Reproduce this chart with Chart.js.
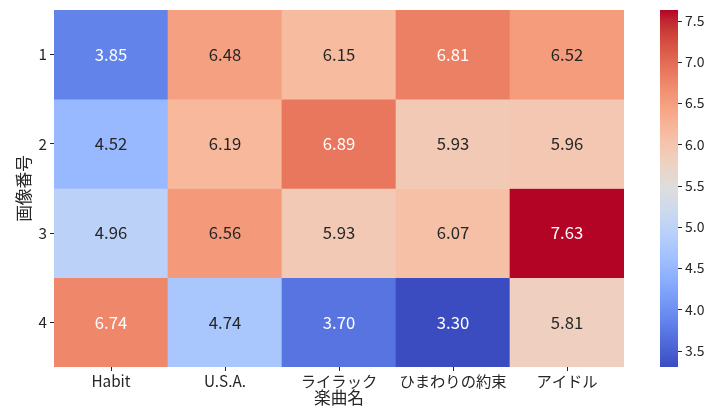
<!DOCTYPE html>
<html><head><meta charset="utf-8">
<script src="https://cdn.jsdelivr.net/npm/chart.js@4/dist/chart.umd.min.js"></script>
<style>html,body{margin:0;padding:0;background:#fff}</style>
</head><body>
<canvas id="c" width="713" height="409"></canvas>
<script>
// ---- data ----
const songs = ['Habit', 'U.S.A.', 'ライラック', 'ひまわりの約束', 'アイドル'];
const rowLabels = ['1', '2', '3', '4'];
const row1 = [3.85, 6.48, 6.15, 6.81, 6.52];
const row2 = [4.52, 6.19, 6.89, 5.93, 5.96];
const row3 = [4.96, 6.56, 5.93, 6.07, 7.63];
const row4 = [6.74, 4.74, 3.70, 3.30, 5.81];
const cbTicks = [3.5, 4.0, 4.5, 5.0, 5.5, 6.0, 6.5, 7.0, 7.5];
const xTitle = '楽曲名';
const yTitle = '画像番号';

const values = [row1, row2, row3, row4];
const all = values.flat();
const vmin = Math.min(...all), vmax = Math.max(...all);

// coolwarm (Moreland) table
const CW = [
[0.2298057,0.298717966,0.753683153],[0.26623388,0.353094838,0.801466763],[0.30386891,0.406535296,0.84495867],
[0.342804478,0.458757618,0.883725899],[0.38301334,0.50941904,0.917387822],[0.424369608,0.558148092,0.945619588],
[0.46666708,0.604562568,0.968154911],[0.509635204,0.648280772,0.98478814],[0.552953156,0.688929332,0.995375608],
[0.596262162,0.726149107,0.999836203],[0.639176211,0.759599947,0.998151185],[0.681291281,0.788964712,0.990363227],
[0.722193294,0.813952739,0.976574709],[0.761464949,0.834302879,0.956945269],[0.798691636,0.849786142,0.931688648],
[0.833466556,0.860207984,0.901068838],[0.865395197,0.86541021,0.865395561],[0.897787179,0.848937047,0.820880546],
[0.924127593,0.827384882,0.774508472],[0.944468518,0.800927443,0.726736146],[0.958852946,0.769767752,0.678007945],
[0.96732803,0.734132809,0.628751763],[0.969954137,0.694266682,0.579375448],[0.966811177,0.650421156,0.530263762],
[0.958003065,0.602842431,0.481775914],[0.943660866,0.551750968,0.434243684],[0.923944917,0.49730856,0.387970225],
[0.89904617,0.439559467,0.343229596],[0.869186849,0.378313092,0.300267182],[0.834620542,0.312874446,0.259301199],
[0.795631745,0.24128379,0.220525627],[0.752534934,0.157246067,0.184115123],[0.705673158,0.01555616,0.150232812]];
function cmapRGB(t){
  t = Math.max(0, Math.min(1, t));
  const p = t * (CW.length - 1), i = Math.min(CW.length - 2, Math.floor(p)), f = p - i;
  return [0,1,2].map(k => CW[i][k] + (CW[i+1][k] - CW[i][k]) * f);
}
function css(rgb){ return 'rgb(' + rgb.map(v => Math.round(v * 255)).join(',') + ')'; }
function colorFor(v){ return css(cmapRGB((v - vmin) / (vmax - vmin))); }
function textColorFor(v){
  const rgb = cmapRGB((v - vmin) / (vmax - vmin));
  const lin = rgb.map(c => c <= 0.03928 ? c / 12.92 : Math.pow((c + 0.055) / 1.055, 2.4));
  const L = 0.2126 * lin[0] + 0.7152 * lin[1] + 0.0722 * lin[2];
  return L > 0.408 ? '#262626' : '#ffffff';
}

const FONT = "'Noto Sans CJK JP', 'Noto Sans', sans-serif";
const INK = '#262626';

const datasets = values.map((row, r) => ({
  label: rowLabels[r],
  data: row.map(() => [r + 0.5, r + 1.5]),
  backgroundColor: row.map(colorFor),
  borderWidth: 0,
  grouped: false,
  barPercentage: 1,
  categoryPercentage: 1,
  yAxisID: 'y'
}));

const annotate = {
  id: 'annotate',
  afterDatasetsDraw(chart){
    const ctx = chart.ctx;
    ctx.save();
    ctx.font = '16.7px ' + FONT;
    ctx.textAlign = 'center';
    ctx.textBaseline = 'middle';
    values.forEach((row, r) => {
      const meta = chart.getDatasetMeta(r);
      meta.data.forEach((el, c) => {
        ctx.fillStyle = textColorFor(row[c]);
        ctx.fillText(row[c].toFixed(2), el.x, (el.y + el.base) / 2);
      });
    });
    ctx.restore();
  }
};

const colorbar = {
  id: 'colorbar',
  afterDraw(chart){
    const s = chart.scales.cb, ctx = chart.ctx;
    const x0 = s.left + 36, w = 18;
    const yTop = s.getPixelForValue(vmax), yBot = s.getPixelForValue(vmin);
    const g = ctx.createLinearGradient(0, yBot, 0, yTop);
    for (let i = 0; i <= 64; i++) g.addColorStop(i / 64, css(cmapRGB(i / 64)));
    ctx.save();
    ctx.fillStyle = g;
    ctx.fillRect(x0, yTop, w, yBot - yTop);
    ctx.strokeStyle = INK;
    ctx.lineWidth = 1;
    cbTicks.forEach(v => {
      const y = Math.round(s.getPixelForValue(v)) + 0.5;
      ctx.beginPath(); ctx.moveTo(x0 + w, y); ctx.lineTo(x0 + w + 4, y); ctx.stroke();
    });
    ctx.restore();
  }
};

function noPadV(s){ s.paddingTop = 0; s.paddingBottom = 0; }

new Chart(document.getElementById('c'), {
  type: 'bar',
  data: { labels: songs, datasets },
  options: {
    responsive: false,
    animation: false,
    layout: { padding: { top: 10, right: 0, bottom: 0, left: 0 } },
    plugins: { legend: { display: false }, tooltip: { enabled: false } },
    scales: {
      x: {
        type: 'category', offset: true,
        grid: { drawOnChartArea: false, drawTicks: true, tickLength: 4, offset: false, tickColor: INK },
        border: { display: false },
        ticks: { color: INK, font: { family: FONT, size: 15.3 }, padding: 1, maxRotation: 0 },
        title: { display: true, text: xTitle, color: INK, font: { family: FONT, size: 16.7 }, padding: { top: 0, bottom: 1 } },
        afterFit(s){ s.height = 42; s.paddingLeft = 0; s.paddingRight = 0; }
      },
      y: {
        type: 'linear', min: 0.5, max: 4.5, reverse: true,
        afterBuildTicks(s){ s.ticks = rowLabels.map((_, i) => ({ value: i + 1 })); },
        grid: { drawOnChartArea: false, drawTicks: true, tickLength: 4, tickColor: INK },
        border: { display: false },
        ticks: { color: INK, font: { family: FONT, size: 15.3 }, padding: 3, callback: (v) => rowLabels[v - 1] },
        title: { display: true, text: yTitle, color: INK, font: { family: FONT, size: 16.7 }, padding: { top: 14, bottom: 0 } },
        afterFit(s){ s.width = 54; noPadV(s); }
      },
      cb: {
        type: 'linear', position: 'right', min: vmin, max: vmax,
        afterBuildTicks(s){ s.ticks = cbTicks.map(v => ({ value: v })); },
        grid: { drawOnChartArea: false, drawTicks: false },
        border: { display: false },
        ticks: { color: INK, font: { family: FONT, size: 14 }, padding: 61, callback: (v) => Number(v).toFixed(1) },
        afterFit(s){ s.width = 89; noPadV(s); }
      }
    }
  },
  plugins: [annotate, colorbar]
});
</script>
</body></html>
